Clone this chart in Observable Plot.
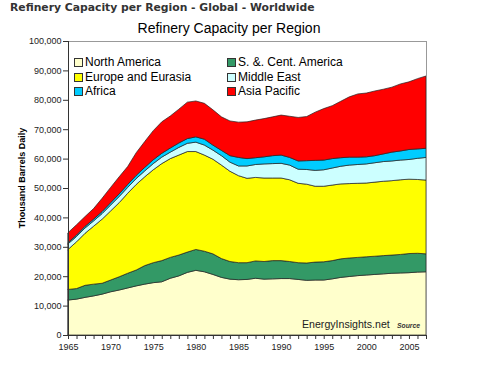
<!DOCTYPE html>
<html>
<head>
<meta charset="utf-8">
<script src="https://cdn.jsdelivr.net/npm/d3@7"></script>
<script src="https://cdn.jsdelivr.net/npm/@observablehq/plot@0.6"></script>
<style>
  html, body { margin: 0; padding: 0; background: #fff; }
  #wrap { position: relative; width: 500px; height: 369px; font-family: "Liberation Sans", Arial, sans-serif; }
  #wrap svg { position: absolute; left: 0; top: 0; }
  .abs { position: absolute; white-space: nowrap; line-height: 1; }
  #maintitle { left: 10px; top: 3px; font-family: "DejaVu Sans", Verdana, sans-serif; font-size: 10.8px; font-weight: bold; color: #333; }
  #charttitle { left: 0; width: 458px; text-align: center; top: 21px; font-size: 14px; color: #000; }
  #ylabel { left: 22px; top: 178px; font-size: 9px; font-weight: bold; color: #000; transform: translate(-50%, -50%) rotate(-90deg); }
  .leg { position: absolute; font-size: 12px; color: #000; line-height: 1; }
  .sw { position: absolute; width: 7px; height: 7px; border: 1px solid #333; }
  #wm { left: 302px; top: 319px; font-size: 10.6px; color: #222; }
  #src { left: 397px; top: 323px; font-size: 6.8px; font-style: italic; font-weight: bold; color: #333; }
</style>
</head>
<body>
<div id="wrap">
  <div id="maintitle" class="abs">Refinery Capacity per Region - Global - Worldwide</div>
  <div id="charttitle" class="abs">Refinery Capacity per Region</div>
  <div id="ylabel" class="abs">Thousand Barrels Daily</div>
  <div id="wm" class="abs">EnergyInsights.net</div>
  <div id="src" class="abs">Source</div>
</div>
<script>
const years = d3.range(1965, 2008);
const regions = ["North America", "S. &. Cent. America", "Europe and Eurasia", "Middle East", "Africa", "Asia Pacific"];
const colors = ["#FFFFCC", "#339966", "#FFFF00", "#CCFFFF", "#00CCFF", "#FF0000"];

const northAmerica = [11900,12200,12800,13300,13900,14700,15300,16000,16700,17300,17800,18100,19300,20100,21300,22000,21500,20600,19600,19000,18800,18900,19300,19000,19100,19200,19200,18900,18600,18700,18700,19100,19600,19900,20200,20400,20600,20800,21000,21100,21200,21400,21500];
const southCentral = [3600,3600,4100,4000,3700,4000,4500,5000,5400,6300,6800,7200,7100,7100,6900,7100,7000,7000,6400,6000,5800,5700,5900,6000,6200,6100,5800,5700,5900,6100,6200,6200,6300,6300,6200,6200,6200,6200,6200,6300,6500,6400,6100];
const europeEurasia = [13600,15900,17700,19700,21800,23500,25200,27200,29100,30200,31600,33000,33600,34000,34200,33300,32700,32200,31800,30700,29600,28700,28400,28400,28100,28100,27800,27000,26800,25800,25700,25700,25500,25300,25200,25100,25200,25300,25300,25400,25300,25100,25100];
const middleEast = [1900,1800,1800,1800,1900,2000,2100,2000,2000,2000,2100,2200,2200,2600,2800,3200,3400,3100,3200,3100,3300,4200,4400,4800,4900,5000,5000,4800,5000,5400,5600,5800,6000,6300,6400,6500,6600,6700,6700,6700,6700,7200,7700];
const africa = [400,500,600,600,700,800,900,1000,1100,1200,1300,1300,1400,1500,1600,1800,2000,1700,1800,2200,2900,2500,2300,2400,2700,2800,2600,2800,3000,3400,3300,3200,2900,2700,2500,2400,2400,2600,3000,3100,3400,3200,3100];
const asiaPacific = [3400,3500,3300,3600,4500,5200,5800,6100,7700,8800,9900,10700,10900,11500,12400,12200,12200,12000,11400,11800,12000,12500,12800,13000,13200,13600,14000,14800,15000,16400,17500,18000,19200,20500,21500,21700,22000,22000,22100,22800,23000,23900,24600];

const yTicks = d3.range(0, 100001, 10000);
const xMinorTicks = years;
const xLabelTicks = d3.range(1965, 2006, 5);

const series = [northAmerica, southCentral, europeEurasia, middleEast, africa, asiaPacific];
const data = [];
series.forEach((vals, i) => vals.forEach((v, j) => data.push({year: years[j], region: regions[i], value: v})));

const chart = Plot.plot({
  width: 500,
  height: 369,
  marginLeft: 68,
  marginRight: 74,
  marginTop: 41,
  marginBottom: 34,
  style: {fontFamily: "'Liberation Sans', Arial, sans-serif", fontSize: "9px", color: "#222", background: "transparent"},
  x: {domain: [1965, 2007], label: null},
  y: {domain: [0, 100000], label: null},
  color: {domain: regions, range: colors},
  marks: [
    Plot.areaY(data, {x: "year", y: "value", fill: "region", z: "region", order: regions, stroke: "#222", strokeWidth: 0.7}),
    Plot.frame({stroke: "#999"}),
    Plot.ruleX([1965], {stroke: "#333"}),
    Plot.ruleY([0], {stroke: "#333"}),
    Plot.axisY(yTicks, {tickSize: 5, tickPadding: 2, tickFormat: d3.format(","), label: null, stroke: "#333"}),
    Plot.axisX(xMinorTicks, {tickSize: 4, tickFormat: () => "", label: null, stroke: "#333"}),
    Plot.axisX(xLabelTicks, {tickSize: 0, tickPadding: 8, tickFormat: d3.format("d"), label: null})
  ]
});
const wrap = document.getElementById("wrap");
wrap.insertBefore(chart, wrap.firstChild);

// legend (inside plot area)
const legPos = [[74, 58], [227, 58], [74, 72.5], [227, 72.5], [74, 87], [227, 87]];
legPos.forEach(([lx, ly], k) => {
  const sw = document.createElement("div");
  sw.className = "sw";
  sw.style.left = lx + "px";
  sw.style.top = ly + "px";
  sw.style.background = colors[k];
  wrap.appendChild(sw);
  const t = document.createElement("div");
  t.className = "leg";
  t.style.left = (lx + 11) + "px";
  t.style.top = (ly - 2) + "px";
  t.textContent = regions[k];
  wrap.appendChild(t);
});
</script>
</body>
</html>
